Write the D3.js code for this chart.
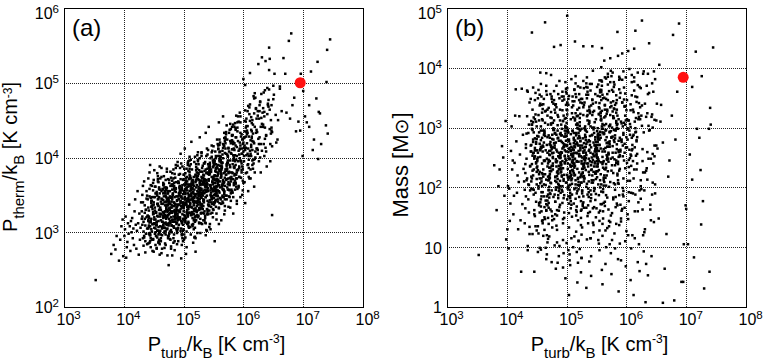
<!DOCTYPE html>
<html><head><meta charset="utf-8">
<script src="https://cdn.jsdelivr.net/npm/d3@7"></script>
<style>
body{margin:0;background:#fff}
svg{display:block}
text{font-family:"Liberation Sans",Arial,Helvetica,sans-serif;fill:#000}
</style>
</head><body>
<svg id="chart" width="763" height="362"></svg>
<script>
// ---- data (log10 values) ----
const xTickValues = [1e3,1e4,1e5,1e6,1e7,1e8];
const xTickExponents = ["3","4","5","6","7","8"];
const yTickValuesA = [1e2,1e3,1e4,1e5,1e6];
const yTickBasesA = ["10","10","10","10","10"];
const yTickExponentsA = ["2","3","4","5","6"];
const yTickValuesB = [1,10,1e2,1e3,1e4,1e5];
const yTickBasesB = ["1","10","10","10","10","10"];
const yTickExponentsB = ["","","2","3","4","5"];
const panelLabels = ["(a)","(b)"];

// log10 Pturb/kB of each clump (shared by both panels)
const logPturb = [
3.53,3.79,3.83,3.88,3.92,3.96,3.98,3.99,3.86,3.94,
4.02,4.05,4.07,4.01,4.09,4.04,4.08,4.03,4.06,4.10,
4.12,4.15,4.18,4.11,4.16,4.19,4.13,4.17,4.14,4.20,
4.22,4.26,4.21,4.29,4.24,4.27,4.23,4.28,4.25,4.30,
4.31,4.34,4.37,4.32,4.39,4.35,4.33,4.38,4.36,4.40,
4.30,4.36,4.33,4.39,4.31,4.37,4.34,4.38,4.32,4.35,
4.41,4.44,4.47,4.42,4.49,4.45,4.43,4.48,4.46,4.50,
4.40,4.46,4.43,4.49,4.41,4.47,4.44,4.48,4.42,4.45,
4.51,4.54,4.57,4.52,4.59,4.55,4.53,4.58,4.56,4.60,
4.50,4.56,4.53,4.59,4.51,4.57,4.54,4.58,4.52,4.55,
4.52,4.55,4.58,4.50,4.57,4.53,4.59,4.54,4.56,4.51,
4.61,4.64,4.67,4.62,4.69,4.65,4.63,4.68,4.66,4.70,
4.60,4.66,4.63,4.69,4.61,4.67,4.64,4.68,4.62,4.65,
4.62,4.65,4.68,4.60,4.67,4.63,4.69,4.64,4.66,4.61,
4.71,4.78,4.74,4.70,4.76,4.79,4.72,4.75,4.73,4.77,
4.75,4.72,4.79,4.73,4.70,4.77,4.74,4.71,4.78,4.76,
4.73,4.77,4.70,4.76,4.72,4.79,4.74,4.78,4.71,4.75,
4.77,4.71,4.74,4.78,4.72,4.76,4.70,4.79,4.73,4.75,
4.82,4.88,4.85,4.80,4.87,4.83,4.89,4.81,4.86,4.84,
4.86,4.81,4.84,4.89,4.82,4.87,4.80,4.85,4.88,4.83,
4.80,4.85,4.88,4.83,4.86,4.81,4.89,4.84,4.87,4.82,
4.84,4.80,4.87,4.82,4.89,4.85,4.81,4.88,4.83,4.86,
4.87,4.83,4.80,4.86,4.82,4.89,4.84,4.81,4.88,4.85,
4.93,4.97,4.90,4.95,4.99,4.92,4.96,4.91,4.98,4.94,
4.96,4.92,4.99,4.94,4.90,4.97,4.93,4.98,4.91,4.95,
4.91,4.98,4.94,4.90,4.96,4.93,4.99,4.92,4.95,4.97,
4.95,4.91,4.97,4.93,4.99,4.90,4.96,4.94,4.98,4.92,
4.98,4.94,4.91,4.97,4.93,4.96,4.90,4.99,4.92,4.95,
5.02,5.07,5.04,5.09,5.01,5.06,5.03,5.08,5.00,5.05,
5.05,5.00,5.08,5.03,5.06,5.01,5.09,5.04,5.07,5.02,
5.08,5.03,5.00,5.06,5.02,5.09,5.05,5.01,5.07,5.04,
5.01,5.06,5.09,5.04,5.07,5.02,5.05,5.08,5.03,5.00,
5.04,5.09,5.02,5.07,5.00,5.05,5.08,5.03,5.06,5.01,
5.07,5.02,5.05,5.00,5.08,5.04,5.01,5.09,5.06,5.03,
5.13,5.18,5.11,5.16,5.19,5.12,5.15,5.10,5.17,5.14,
5.16,5.11,5.19,5.14,5.10,5.17,5.12,5.18,5.15,5.13,
5.19,5.14,5.10,5.17,5.13,5.16,5.11,5.18,5.12,5.15,
5.12,5.17,5.15,5.10,5.18,5.13,5.16,5.19,5.11,5.14,
5.15,5.10,5.13,5.18,5.11,5.16,5.19,5.14,5.17,5.12,
5.18,5.13,5.16,5.11,5.19,5.15,5.12,5.10,5.17,5.14,
5.25,5.20,5.28,5.23,5.26,5.21,5.29,5.24,5.27,5.22,
5.22,5.27,5.24,5.29,5.21,5.26,5.23,5.28,5.20,5.25,
5.24,5.27,5.21,5.25,5.29,5.22,5.26,5.20,5.23,5.28,
5.20,5.23,5.28,5.25,5.22,5.27,5.24,5.29,5.26,5.21,
5.21,5.26,5.23,5.28,5.25,5.20,5.27,5.22,5.29,5.24,
5.23,5.26,5.29,5.21,5.24,5.28,5.20,5.25,5.22,5.27,
5.34,5.31,5.38,5.36,5.30,5.33,5.39,5.35,5.32,5.37,
5.38,5.33,5.30,5.36,5.31,5.39,5.34,5.37,5.32,5.35,
5.31,5.36,5.33,5.39,5.30,5.37,5.32,5.38,5.34,5.35,
5.36,5.32,5.39,5.30,5.35,5.33,5.38,5.31,5.37,5.34,
5.33,5.38,5.35,5.31,5.37,5.30,5.34,5.39,5.32,5.36,
5.42,5.47,5.44,5.49,5.41,5.46,5.43,5.48,5.40,5.45,
5.46,5.41,5.49,5.43,5.47,5.40,5.48,5.44,5.42,5.45,
5.48,5.43,5.40,5.46,5.42,5.49,5.45,5.41,5.47,5.44,
5.41,5.46,5.49,5.44,5.47,5.42,5.45,5.48,5.43,5.40,
5.44,5.49,5.42,5.47,5.40,5.45,5.48,5.43,5.46,5.41,
5.52,5.57,5.54,5.59,5.50,5.56,5.53,5.58,5.51,5.55,
5.54,5.56,5.51,5.59,5.53,5.57,5.50,5.55,5.52,5.58,
5.55,5.54,5.58,5.52,5.57,5.50,5.59,5.53,5.56,5.51,
5.56,5.53,5.58,5.51,5.55,5.59,5.52,5.57,5.50,5.54,
5.55,5.58,5.51,5.54,5.59,5.52,5.56,5.50,5.53,5.57,
5.63,5.68,5.61,5.66,5.69,5.62,5.65,5.60,5.67,5.64,
5.66,5.61,5.69,5.64,5.60,5.67,5.62,5.68,5.65,5.63,
5.69,5.64,5.61,5.67,5.63,5.60,5.66,5.62,5.68,5.65,
5.62,5.67,5.64,5.69,5.61,5.66,5.63,5.68,5.60,5.65,
5.74,5.77,5.70,5.75,5.72,5.79,5.76,5.71,5.78,5.73,
5.76,5.71,5.79,5.74,5.70,5.77,5.72,5.78,5.75,5.73,
5.79,5.74,5.71,5.77,5.73,5.70,5.76,5.72,5.78,5.75,
5.86,5.89,5.82,5.85,5.80,5.87,5.84,5.83,5.88,5.81,
5.83,5.85,5.88,5.82,5.87,5.80,5.84,5.89,5.81,5.86,
5.89,5.84,5.81,5.87,5.83,5.80,5.86,5.82,5.88,5.85,
5.94,5.97,5.90,5.95,5.92,5.99,5.96,5.91,5.98,5.93,
5.96,5.91,5.99,5.94,5.90,5.97,5.92,5.98,5.95,5.93,
6.06,6.09,6.02,6.05,6.00,6.07,6.04,6.03,6.08,6.01,
6.06,6.01,6.09,6.04,6.00,6.07,6.02,6.08,6.05,6.03,
6.14,6.17,6.10,6.15,6.12,6.19,6.16,6.11,6.18,6.13,
6.16,6.11,6.19,6.14,6.10,6.17,6.12,6.18,6.15,6.13,
6.23,6.28,6.21,6.26,6.29,6.22,6.25,6.20,6.27,6.24,
6.33,6.38,6.31,6.36,6.39,6.32,6.35,6.30,6.37,6.34,
6.43,6.48,6.41,6.46,6.44,6.42,6.45,6.40,6.47,6.43,
6.52,6.61,6.58,6.67,6.55,6.70,6.64,6.50,6.61,6.48,
6.80,6.76,6.72,6.96,6.88,6.82,6.92,6.85,6.99,6.78,
7.45,7.40,7.24,7.13,7.39,7.00,7.38,7.28,7.41,7.22,
7.16,7.10,7.26,7.18,7.03,7.25,7.10,7.30,6.95,7.06,
4.33,4.47,4.38,4.42,4.31,4.49,4.36,4.44,4.40,4.35,
4.45,4.32,4.48,4.37,4.41,4.34,4.46,4.39,4.43,4.50,
4.52,4.41,4.57,4.46,4.59,4.43,4.55,4.49,4.53,4.44,
4.48,4.56,4.42,4.60,4.50,4.45,4.58,4.47,4.54,4.51,
4.62,4.71,4.57,4.66,4.74,4.60,4.69,4.63,4.72,4.58,
4.67,4.59,4.73,4.64,4.56,4.70,4.61,4.75,4.65,4.68,
4.60,4.69,4.74,4.57,4.66,4.63,4.72,4.58,4.68,4.71,
4.77,4.86,4.72,4.81,4.89,4.75,4.84,4.78,4.87,4.73,
4.82,4.74,4.88,4.79,4.71,4.85,4.76,4.90,4.80,4.83,
4.75,4.84,4.89,4.72,4.81,4.78,4.87,4.73,4.83,4.86,
4.71,4.80,4.76,4.88,4.74,4.85,4.79,4.82,4.77,4.90,
4.86,4.73,4.81,4.77,4.89,4.70,4.84,4.75,4.88,4.79,
4.78,4.83,4.70,4.87,4.76,4.81,4.90,4.74,4.85,4.72,
4.97,5.06,4.92,5.01,5.09,4.95,5.04,4.98,5.07,4.93,
5.02,4.94,5.08,4.99,4.91,5.05,4.96,5.10,5.00,5.03,
4.95,5.04,5.09,4.92,5.01,4.98,5.07,4.93,5.03,5.06,
4.91,5.00,4.96,5.08,4.94,5.05,4.99,5.02,4.97,5.10,
5.06,4.93,5.01,4.97,5.09,4.90,5.04,4.95,5.08,4.99,
4.98,5.03,4.90,5.07,4.96,5.01,5.10,4.94,5.05,4.92,
5.17,5.26,5.12,5.21,5.29,5.15,5.24,5.18,5.27,5.13,
5.22,5.14,5.28,5.19,5.11,5.25,5.16,5.30,5.20,5.23,
5.15,5.24,5.29,5.12,5.21,5.18,5.27,5.13,5.23,5.26,
5.11,5.20,5.16,5.28,5.14,5.25,5.19,5.22,5.17,5.30,
5.26,5.13,5.21,5.17,5.29,5.10,5.24,5.15,5.28,5.19,
5.18,5.23,5.10,5.27,5.16,5.21,5.30,5.14,5.25,5.12,
5.37,5.46,5.32,5.41,5.49,5.35,5.44,5.38,5.47,5.33,
5.42,5.34,5.48,5.39,5.31,5.45,5.36,5.50,5.40,5.43,
5.35,5.44,5.49,5.32,5.41,5.38,5.47,5.33,5.43,5.46,
5.31,5.40,5.36,5.48,5.34,5.45,5.39,5.42,5.37,5.50,
5.46,5.33,5.41,5.37,5.49,5.30,5.44,5.35,5.48,5.39,
5.57,5.66,5.52,5.61,5.69,5.55,5.64,5.58,5.67,5.53,
5.62,5.54,5.68,5.59,5.51,5.65,5.56,5.70,5.60,5.63,
5.55,5.64,5.69,5.52,5.61,5.58,5.67,5.53,5.63,5.66,
5.51,5.60,5.56,5.68,5.54,5.65,5.59,5.62,5.57,5.70,
5.77,5.86,5.72,5.81,5.89,5.75,5.84,5.78,5.87,5.73,
5.82,5.74,5.88,5.79,5.71,5.85,5.76,5.90,5.80,5.83,
5.75,5.84,5.89,5.72,5.81,5.78,5.87,5.73,5.83,5.86,
5.97,6.06,5.92,6.01,6.09,5.95,6.04,5.98,6.07,5.93,
6.02,5.94,6.08,5.99,5.91,6.05,5.96,6.10,6.00,6.03,
6.17,6.31,6.12,6.24,6.38,6.15,6.28,6.20,6.35,6.13,
6.26,6.44,6.22,6.51,6.33,6.57,6.29,6.47,6.36,6.54,
6.04,6.21,6.09,6.27,6.13,6.18,6.02,6.24,6.07,6.15,
4.43,4.61,4.52,4.68,4.47,4.57,4.64,4.41,4.55,4.66,
4.58,4.46,4.69,4.50,4.63,4.42,4.54,4.67,4.48,4.60,
4.65,4.53,4.44,4.70,4.59,4.49,4.62,4.56,4.45,4.68,
4.51,4.66,4.60,4.42,4.55,4.69,4.47,4.63,4.58,4.44,
4.64,4.49,4.57,4.45,4.70,4.53,4.61,4.41,4.67,4.56,
4.47,4.59,4.43,4.66,4.52,4.62,4.55,4.68,4.50,4.64,
5.53,5.71,5.62,5.88,5.57,5.79,5.66,5.95,5.60,5.84,
5.68,5.55,5.91,5.74,5.63,5.99,5.81,5.52,5.77,5.86,
5.82,5.97,5.59,5.73,6.04,5.65,5.89,5.51,5.78,5.93,
5.61,5.86,5.76,5.54,6.01,5.69,5.95,5.83,5.58,5.72,
5.75,5.64,6.07,5.92,5.56,5.80,5.68,6.03,5.87,5.99,
5.90,5.52,5.79,5.66,5.97,5.85,5.60,6.09,5.71,5.94,
5.63,5.81,5.96,5.58,5.74,6.05,5.85,5.50,5.69,5.91,
5.57,5.94,5.70,5.83,6.08,5.62,5.77,5.98,5.54,5.88,
5.72,5.60,5.87,6.00,5.66,5.93,5.52,5.79,6.06,5.83,
5.95,5.78,5.65,5.89,5.55,6.02,5.73,5.84,5.61,5.98,
6.12,6.35,6.22,6.46,6.17,6.29,6.41,6.14,6.26,6.38,
6.27,6.15,6.43,6.20,6.33,6.11,6.48,6.24,6.37,6.19,
6.16,6.42,6.31,6.13,6.25,6.50,6.21,6.36,6.18,6.45,
6.40,6.23,6.11,6.34,6.47,6.19,6.30,6.14,6.44,6.28
];

// log10 Ptherm/kB (panel a)
const logPtherm = [
2.36,2.71,2.83,2.95,2.62,3.08,3.17,2.68,2.77,2.90,
3.04,2.80,3.12,2.95,3.37,2.66,2.98,3.21,2.87,3.08,
3.15,2.92,3.28,2.75,3.05,3.44,3.00,2.83,3.19,3.10,
3.02,3.25,2.78,3.40,3.12,2.90,3.55,3.06,2.70,3.18,
3.10,2.95,3.30,3.62,2.84,3.18,3.01,3.45,2.73,3.22,
3.28,2.88,3.14,3.05,3.50,2.98,3.68,3.20,2.92,3.36,
3.15,2.96,3.42,3.07,3.27,2.80,3.58,3.11,3.34,2.74,
3.22,3.04,3.80,2.90,3.16,3.47,2.99,3.31,3.09,3.63,
3.20,2.95,3.44,3.12,3.30,2.79,3.61,3.07,3.38,2.70,
3.25,3.02,3.52,2.88,3.17,3.71,3.09,3.35,2.98,3.14,
3.33,3.10,2.86,3.47,3.21,3.00,3.58,3.26,2.93,3.83,
3.24,3.05,3.48,2.92,3.36,3.14,2.72,3.60,3.19,3.02,
3.30,3.10,3.55,2.85,3.21,3.75,3.07,3.40,2.97,3.27,
3.16,3.38,2.99,3.52,3.12,3.86,3.28,2.78,3.43,3.08,
3.47,3.12,3.29,2.83,3.66,3.20,3.04,3.38,2.69,3.55,
3.09,3.41,3.73,3.27,2.97,3.15,3.52,3.34,2.90,3.24,
3.36,3.01,3.49,3.18,3.85,2.78,3.23,3.62,3.11,3.43,
3.30,3.56,2.95,3.14,3.37,3.70,3.21,3.46,3.05,2.56,
3.52,3.19,2.88,3.41,3.67,3.08,3.30,3.79,3.24,2.97,
3.14,3.44,3.61,3.02,3.28,3.90,3.36,2.76,3.48,3.21,
3.33,3.55,3.11,2.92,3.73,3.26,3.43,3.06,3.59,3.17,
3.40,3.00,3.26,3.64,3.13,3.47,2.69,3.32,3.84,3.22,
3.58,3.35,3.09,3.17,3.50,2.84,3.39,3.62,3.04,3.28,
3.29,3.58,3.16,3.71,3.02,3.44,3.35,2.88,3.63,3.20,
3.47,3.10,3.38,3.86,3.25,2.96,3.53,3.14,3.68,3.41,
3.06,3.34,3.55,3.22,2.65,3.49,3.18,3.77,3.31,3.60,
3.42,3.66,3.12,3.37,3.51,3.04,3.92,3.27,2.92,3.45,
3.24,3.57,3.36,2.83,3.61,3.15,3.48,3.70,3.28,4.05,
3.47,3.21,3.69,3.35,2.97,3.56,3.13,3.82,3.40,3.27,
3.60,3.32,3.08,3.51,3.74,3.17,3.43,2.71,3.64,3.38,
3.26,3.53,3.77,3.11,3.45,3.62,3.01,3.36,3.90,3.19,
3.55,3.30,3.48,3.66,3.23,4.12,3.41,3.14,3.58,3.04,
3.39,3.71,3.18,3.52,3.34,2.80,3.46,3.63,3.25,3.85,
3.12,3.44,3.59,3.28,3.95,3.37,2.91,3.50,3.68,3.22,
3.52,3.28,3.75,3.41,3.06,3.63,3.19,3.89,3.47,3.33,
3.66,3.38,3.14,3.58,3.81,3.24,3.49,2.93,3.70,3.44,
3.31,3.59,3.85,3.16,3.51,3.69,3.07,3.42,3.97,3.25,
3.61,3.36,3.53,3.72,3.29,4.21,3.46,3.20,3.64,3.10,
3.45,3.77,3.23,3.57,3.39,2.86,3.50,3.68,3.31,3.91,
3.17,3.48,3.63,3.34,4.01,3.43,2.97,3.55,3.74,3.27,
3.58,3.32,3.81,3.46,3.12,3.69,3.25,3.95,3.53,3.39,
3.72,3.44,3.20,3.64,3.87,3.30,3.55,2.99,3.76,3.50,
3.37,3.65,3.91,3.22,3.57,3.75,3.13,3.48,4.03,3.31,
3.67,3.42,3.59,3.78,3.35,4.27,3.52,3.26,3.70,3.16,
3.51,3.83,3.29,3.63,3.45,2.92,3.56,3.74,3.37,3.97,
3.23,3.54,3.69,3.40,4.07,3.49,2.74,3.61,3.80,3.33,
3.40,3.86,3.63,3.19,3.74,3.55,4.12,3.28,3.68,3.47,
3.79,3.35,3.58,3.94,3.11,3.66,3.43,3.84,3.26,3.71,
3.53,3.22,3.77,3.61,3.38,4.33,3.49,3.03,3.70,3.57,
3.65,3.89,3.31,3.46,3.82,3.16,3.60,3.72,2.96,3.52,
3.44,3.69,3.92,3.37,3.56,4.06,3.25,3.80,3.64,3.13,
3.70,3.44,3.93,3.57,3.24,3.81,3.36,4.09,3.64,3.50,
3.84,3.55,3.31,3.77,4.01,3.42,3.67,3.11,3.88,3.62,
3.48,3.78,4.04,3.34,3.69,3.87,3.25,3.59,4.16,3.43,
3.79,3.53,3.71,3.90,3.46,4.41,3.63,3.38,3.82,3.27,
3.63,3.96,3.40,3.74,3.57,3.04,3.68,3.86,3.49,4.10,
3.76,3.49,3.99,3.63,3.30,3.88,3.42,4.16,3.71,3.57,
3.91,3.61,3.37,3.84,4.08,3.48,3.74,3.17,3.95,3.68,
3.55,3.85,4.11,3.40,3.76,3.94,3.32,3.66,4.24,3.50,
3.86,3.59,3.78,3.97,3.52,4.47,3.70,3.44,3.89,3.34,
3.69,4.02,3.46,3.81,3.63,2.88,3.75,3.93,3.55,4.18,
3.84,3.55,4.08,3.70,3.35,3.97,3.49,4.24,3.79,3.63,
3.99,3.68,3.44,3.92,4.17,3.56,3.82,3.24,4.04,3.76,
3.62,3.93,4.20,3.47,3.84,4.02,3.39,3.73,4.33,3.58,
3.94,3.66,3.86,4.06,3.60,4.55,3.78,3.51,3.97,3.41,
3.93,3.63,4.19,3.79,3.44,4.06,3.57,4.34,3.87,3.71,
4.08,3.77,3.52,4.01,4.27,3.65,3.91,3.33,4.13,3.85,
3.71,4.02,4.31,3.56,3.93,4.12,3.48,3.82,4.45,3.67,
4.03,3.72,4.30,3.88,3.53,4.16,3.66,4.44,3.97,3.80,
4.18,3.86,3.61,4.11,4.37,3.74,4.00,3.42,4.23,3.95,
3.80,4.12,4.41,3.65,4.03,4.22,3.57,3.91,4.56,3.76,
4.12,3.80,4.40,3.96,3.60,4.25,3.73,4.55,4.05,3.88,
4.28,3.95,3.69,4.20,4.47,3.83,4.09,3.50,4.33,4.04,
4.19,3.86,4.49,4.03,3.66,4.33,3.79,4.97,4.12,3.95,
4.36,4.02,3.74,4.28,5.05,3.90,4.16,3.55,4.42,4.10,
4.26,3.92,4.58,4.10,3.72,4.41,3.85,5.13,4.19,4.02,
4.44,4.09,3.80,4.35,4.67,3.97,4.23,3.61,4.50,4.17,
4.34,4.00,4.66,4.18,3.80,4.52,5.25,4.80,4.27,4.10,
4.41,4.08,5.34,4.25,3.88,4.60,4.02,4.85,5.29,4.18,
5.47,4.15,4.72,4.32,5.32,4.68,3.95,4.93,4.40,5.17,
5.12,4.95,4.50,5.33,4.20,5.12,4.62,4.78,4.92,3.23,
5.66,5.56,4.60,5.12,4.35,4.70,4.48,4.80,4.02,4.52,
5.58,5.44,5.28,5.15,5.01,4.89,4.43,4.59,4.32,4.79,
4.10,4.41,4.61,4.24,4.55,3.98,4.70,4.18,4.36,4.47,
2.82,3.35,3.55,2.98,3.21,3.66,3.09,2.88,3.44,3.26,
3.14,3.40,2.75,3.30,3.72,2.93,3.18,3.49,2.86,3.37,
3.29,3.05,3.68,3.42,2.90,3.13,3.51,3.24,2.83,3.90,
3.36,3.02,3.19,3.57,3.11,3.46,2.97,3.62,3.27,3.06,
3.41,3.18,3.02,3.63,3.36,2.89,3.52,3.24,3.81,3.15,
3.06,3.47,3.29,2.96,3.22,3.70,3.33,3.12,3.58,2.79,
3.25,3.55,2.92,3.38,3.09,3.74,3.20,3.45,3.01,3.31,
3.48,3.27,3.10,3.69,3.42,2.95,3.58,3.33,3.86,3.21,
3.14,3.55,3.37,3.03,3.30,3.78,3.41,3.19,3.64,2.86,
3.32,3.62,2.99,3.45,3.16,3.81,3.27,3.52,3.08,3.38,
3.60,3.09,3.40,3.24,3.71,3.35,2.81,3.50,3.26,3.94,
3.19,3.43,3.57,2.91,3.34,3.13,3.66,3.46,3.05,3.28,
3.38,3.72,3.22,3.54,2.98,3.47,3.89,3.11,3.30,3.59,
3.56,3.34,3.17,3.77,3.50,3.02,3.65,3.40,3.93,3.28,
3.21,3.62,3.44,3.10,3.37,3.85,3.48,3.26,3.71,2.93,
3.39,3.69,3.06,3.52,3.23,3.88,3.34,3.59,3.15,3.45,
3.67,3.16,3.47,3.31,3.78,3.42,2.88,3.57,3.33,4.01,
3.26,3.50,3.64,2.98,3.41,3.20,3.73,3.53,3.12,3.35,
3.45,3.79,3.29,3.61,3.05,3.54,3.96,3.18,3.37,3.66,
3.62,3.40,3.23,3.83,3.56,3.08,3.71,3.46,3.99,3.34,
3.27,3.68,3.50,3.16,3.43,3.91,3.54,3.32,3.77,2.99,
3.45,3.75,3.12,3.58,3.29,3.94,3.40,3.65,3.21,3.51,
3.73,3.22,3.53,3.37,3.84,3.48,2.94,3.63,3.39,4.07,
3.32,3.56,3.70,3.04,3.47,3.26,3.79,3.59,3.18,3.41,
3.51,3.85,3.35,3.67,3.11,3.60,4.02,3.24,3.43,3.72,
3.70,3.48,3.31,3.91,3.64,3.16,3.79,3.54,4.07,3.42,
3.35,3.76,3.58,3.24,3.51,3.99,3.62,3.40,3.85,3.07,
3.53,3.83,3.20,3.66,3.37,4.02,3.48,3.73,3.29,3.59,
3.81,3.30,3.61,3.45,3.92,3.56,3.02,3.71,3.47,4.15,
3.40,3.64,3.78,3.12,3.55,3.34,3.87,3.67,3.26,3.49,
3.80,3.57,3.40,4.01,3.73,3.25,3.88,3.63,4.17,3.51,
3.44,3.86,3.67,3.33,3.60,4.09,3.71,3.49,3.95,3.16,
3.62,3.93,3.29,3.75,3.46,4.12,3.57,3.82,3.38,3.68,
3.90,3.39,3.70,3.54,4.02,3.65,3.11,3.80,3.56,4.25,
3.90,3.66,3.49,4.11,3.83,3.34,3.98,3.73,4.27,3.60,
3.53,3.96,3.77,3.42,3.70,4.19,3.81,3.58,4.05,3.25,
3.72,4.03,3.38,3.85,3.55,4.22,3.66,3.92,3.47,3.78,
4.05,3.80,3.62,4.26,3.97,3.47,4.13,3.88,4.42,3.74,
3.67,4.11,3.91,3.56,3.84,4.34,3.95,3.72,4.20,3.39,
4.21,4.45,3.84,4.62,4.30,3.96,4.74,4.08,4.55,4.37,
4.52,4.38,4.12,4.84,4.66,4.24,4.41,4.70,4.90,4.57,
4.48,4.33,4.02,4.70,4.14,4.59,4.27,4.05,4.62,3.90,
3.48,3.02,3.61,3.27,2.90,3.75,3.14,3.33,2.78,3.52,
2.87,3.39,3.06,3.70,3.45,3.21,2.95,3.64,3.11,3.88,
3.57,3.17,3.08,3.41,2.99,3.56,3.30,3.79,2.92,3.20,
3.12,3.66,2.84,3.29,3.54,3.23,3.01,3.38,3.67,2.96,
3.44,2.91,3.36,3.15,3.58,3.05,3.72,2.85,3.25,3.49,
3.34,3.60,2.97,3.22,3.47,2.88,3.13,3.53,3.40,3.07,
3.58,4.05,3.96,3.72,3.41,4.38,3.63,4.16,4.07,3.87,
4.15,3.52,4.22,3.64,3.88,3.85,4.29,3.92,3.47,4.46,
3.79,4.31,3.55,4.24,4.40,3.47,4.02,3.66,3.96,3.74,
3.98,3.69,4.33,3.43,4.13,3.81,4.55,4.21,3.70,4.43,
4.12,3.61,4.05,4.48,3.86,3.57,4.26,4.63,3.90,4.18,
4.35,3.76,3.68,4.18,3.92,4.41,3.53,4.28,3.77,4.60,
3.74,4.30,3.95,3.90,3.57,4.52,4.10,3.55,4.22,3.83,
3.66,3.99,3.84,3.96,4.69,4.01,4.37,4.12,3.49,4.27,
3.89,3.82,4.39,4.08,4.13,3.86,3.61,4.19,4.31,3.71,
4.47,3.80,3.93,4.14,3.71,4.35,4.04,3.63,3.89,4.24,
4.05,4.61,4.37,4.50,4.82,4.18,4.70,4.46,3.95,4.29,
4.62,4.22,4.91,4.00,4.44,4.71,4.34,4.56,4.13,4.86,
4.32,4.77,4.09,4.54,4.25,4.96,4.65,4.40,4.79,4.18,
4.58,4.12,4.49,4.87,4.36,3.98,4.53,4.28,4.64,4.75
];

// log10 Mass [Msun] (panel b)
const logMass = [
0.87,2.37,1.62,2.30,2.69,1.86,3.11,1.13,2.02,2.50,
2.02,1.44,2.61,1.30,2.30,1.98,3.02,0.98,1.73,2.45,
1.86,3.64,2.20,1.55,2.77,1.30,2.41,1.91,3.20,2.09,
2.55,1.72,3.19,2.10,0.59,2.88,1.45,2.31,3.65,1.96,
2.24,3.19,1.58,2.72,1.95,0.95,2.48,3.42,1.80,2.60,
1.40,2.05,2.90,2.35,1.65,3.05,2.15,1.22,2.66,3.60,
2.18,2.80,1.52,4.59,2.40,1.88,3.30,2.62,0.59,2.05,
2.70,1.62,2.28,3.10,1.98,2.52,3.67,1.35,2.15,2.92,
2.35,1.70,3.02,2.58,1.44,2.15,2.85,1.92,3.40,2.22,
1.28,2.64,2.02,3.25,2.44,1.80,2.92,2.10,0.92,2.73,
2.50,3.55,1.60,2.26,2.95,1.98,2.40,3.12,1.75,2.62,
2.30,4.76,1.85,2.75,2.12,3.28,1.50,2.58,3.91,1.95,
2.70,1.62,2.44,3.05,2.18,1.20,2.86,2.35,3.48,1.78,
2.05,2.62,3.20,1.45,2.48,2.90,1.88,2.22,0.80,2.68,
2.61,1.84,2.27,3.33,1.52,2.96,2.44,0.75,2.08,3.08,
1.95,2.72,3.46,2.33,1.66,2.51,3.88,2.14,2.80,1.33,
3.17,2.40,1.74,2.88,2.22,1.47,3.05,2.58,2.01,3.52,
2.30,1.18,2.68,3.40,1.90,2.57,2.12,4.35,2.76,1.60,
2.47,1.98,3.21,2.70,0.85,2.35,2.89,1.76,3.56,2.19,
2.83,2.11,1.62,2.54,3.39,2.04,2.66,3.04,1.02,2.42,
1.88,2.95,2.30,3.70,2.52,1.55,3.12,2.25,2.78,0.64,
2.60,3.30,1.94,2.43,1.71,2.82,2.18,3.49,2.63,2.06,
2.36,1.36,2.74,3.18,2.00,2.49,1.08,2.91,3.78,2.27,
2.44,3.15,1.91,2.67,2.08,3.52,1.58,2.30,2.85,0.66,
2.72,2.18,3.38,1.12,2.55,2.95,2.02,3.76,2.39,1.82,
3.05,2.48,1.47,2.78,2.21,3.29,2.60,1.96,0.90,2.52,
2.14,2.87,2.42,1.74,3.60,2.33,2.69,3.11,0.48,2.58,
2.90,1.40,2.26,2.62,3.45,1.87,4.38,2.45,2.98,2.11,
2.31,2.89,1.73,2.56,3.22,2.04,0.95,2.68,3.57,2.16,
2.47,3.08,2.12,1.85,2.73,3.41,2.29,0.20,2.61,1.98,
1.15,2.52,3.30,2.38,2.92,1.88,2.66,3.66,2.19,2.80,
2.99,2.24,1.51,2.77,3.14,2.40,1.96,2.55,3.48,2.08,
2.64,3.24,2.17,1.77,2.86,2.48,3.81,2.02,0.70,2.71,
2.35,2.96,0.88,2.69,2.21,3.53,4.87,2.42,1.82,2.59,
2.40,1.94,3.17,2.58,0.74,2.83,2.12,3.44,1.68,2.67,
2.91,2.27,1.45,4.44,2.51,1.90,2.74,3.30,2.05,1.18,
2.16,2.78,3.52,1.59,2.33,3.05,2.46,0.41,2.62,3.86,
2.57,3.19,1.81,2.36,2.99,2.20,1.26,2.70,3.37,2.48,
1.99,2.66,3.63,2.31,1.00,2.87,2.14,3.12,2.43,1.73,
2.73,3.44,1.62,2.52,2.04,3.74,2.39,2.94,0.92,2.21,
2.44,1.97,3.21,2.62,1.33,2.86,2.15,3.48,1.72,2.70,
2.95,2.31,1.49,3.66,2.55,1.94,2.78,3.34,2.09,0.82,
2.20,2.82,3.56,1.63,2.37,3.09,2.50,1.10,2.66,4.36,
2.61,3.23,1.85,2.40,3.03,2.24,0.58,2.74,3.41,2.52,
2.03,2.70,3.67,2.35,1.21,2.91,2.18,3.16,2.47,1.77,
2.77,3.48,1.66,2.56,2.08,3.78,2.43,2.98,0.97,2.25,
2.06,2.88,3.35,1.70,2.52,0.32,2.71,3.12,2.29,1.92,
2.63,3.55,2.15,1.40,2.97,2.44,3.84,1.84,2.58,3.21,
3.02,2.35,1.66,2.77,3.42,2.10,2.49,0.76,2.93,3.67,
1.98,2.68,3.27,2.41,1.52,3.74,2.21,2.84,3.06,1.13,
2.54,3.30,1.88,2.97,2.26,2.62,3.49,1.59,2.79,2.40,
2.50,1.98,3.26,2.68,0.85,2.91,2.20,3.56,1.77,2.75,
3.00,2.37,1.50,4.36,2.60,1.95,2.84,3.40,2.12,1.25,
2.25,2.88,3.62,1.67,2.42,3.14,2.55,0.52,2.71,3.95,
2.67,3.28,1.89,2.46,3.09,2.30,1.37,2.80,3.47,2.58,
2.08,2.76,3.73,2.40,1.15,2.97,2.23,3.21,2.52,1.82,
2.84,2.42,1.58,4.33,2.64,2.00,2.90,3.46,2.17,0.95,
2.29,2.93,3.68,1.72,2.47,3.19,2.60,1.28,2.76,4.01,
2.71,3.34,1.93,2.50,3.13,2.35,0.62,2.85,3.52,2.62,
2.12,2.80,3.79,2.44,1.44,3.02,2.27,3.26,2.56,1.87,
3.41,2.05,2.66,1.06,2.98,2.39,3.63,1.65,2.83,2.22,
2.90,2.46,1.60,3.82,2.68,2.03,2.95,0.38,2.20,3.30,
2.33,2.98,3.72,1.76,2.51,3.23,2.64,1.32,2.79,4.12,
2.75,3.38,1.97,2.54,3.17,2.39,1.00,2.89,3.56,2.66,
2.16,2.84,3.84,2.48,1.48,3.06,2.31,3.30,2.60,0.72,
2.94,2.50,1.63,3.86,2.72,2.07,3.00,1.35,2.24,3.34,
2.37,3.02,3.76,0.90,2.55,3.27,2.68,1.80,2.83,4.16,
2.79,3.42,2.01,2.58,3.21,2.43,1.12,2.93,3.60,0.55,
2.98,2.54,1.67,4.60,2.76,0.26,3.04,1.39,2.28,3.38,
2.41,3.06,3.80,1.84,2.59,3.31,2.72,1.06,2.87,4.20,
2.83,3.46,2.05,2.62,3.25,2.47,0.80,2.97,3.64,1.70,
3.02,2.58,1.71,3.94,2.80,0.68,3.08,1.43,2.32,3.42,
2.45,3.10,3.84,1.88,2.63,3.35,2.76,1.10,2.91,4.24,
3.06,2.62,1.55,3.98,2.84,0.45,3.12,1.47,2.36,3.46,
2.49,3.14,3.88,1.92,2.67,3.39,2.80,0.98,2.95,4.28,
3.10,2.30,1.20,4.62,2.88,0.75,3.16,1.90,2.40,3.62,
2.53,3.30,3.92,1.60,2.71,3.43,0.20,2.84,2.99,4.32,
3.14,2.25,1.05,4.79,2.92,0.60,3.20,1.75,2.44,3.66,
3.18,4.41,1.30,3.90,2.96,0.08,3.24,1.95,2.48,3.70,
3.22,2.05,1.45,3.94,3.00,0.85,2.40,1.63,2.52,3.74,
2.65,0.07,3.38,1.22,4.05,2.18,0.64,3.12,2.75,1.90,
0.11,3.20,2.45,1.05,4.74,2.80,0.42,3.60,1.70,4.55,
4.34,3.33,2.29,0.83,0.59,1.64,2.98,1.77,3.05,2.83,
4.27,3.68,3.86,2.98,1.05,1.38,2.13,0.31,0.42,2.55,
2.12,2.66,1.34,3.05,2.39,1.76,2.91,2.20,3.48,1.02,
2.58,1.85,3.22,2.04,2.71,3.62,1.55,2.36,2.96,2.14,
2.29,3.11,1.68,2.50,2.83,1.97,3.37,2.42,1.23,2.76,
1.91,2.62,2.98,1.40,2.33,3.17,2.15,2.82,1.74,2.47,
2.45,1.83,2.79,2.13,3.26,2.60,1.49,2.92,2.27,3.52,
2.71,2.24,1.63,3.08,2.51,1.96,3.39,2.36,0.99,2.84,
3.12,2.40,2.07,2.68,1.72,2.95,2.54,1.85,3.30,2.19,
2.49,1.87,2.83,2.17,3.30,2.64,1.53,2.96,2.31,3.56,
2.75,2.28,1.67,3.12,2.55,2.00,3.43,2.40,1.03,2.88,
3.16,2.44,2.11,2.72,1.76,2.99,2.58,1.89,3.34,2.23,
2.33,2.90,1.45,2.52,3.07,2.14,3.61,1.96,2.67,2.42,
1.82,2.61,3.25,2.36,2.02,2.87,1.29,3.48,2.50,2.74,
2.97,2.09,2.46,1.61,2.81,3.38,2.25,2.70,0.74,2.16,
2.53,1.91,2.87,2.21,3.34,2.68,1.57,3.00,2.35,3.60,
2.79,2.32,1.71,3.16,2.59,2.04,3.47,2.44,1.07,2.92,
3.20,2.48,2.15,2.76,1.80,3.03,2.62,1.93,3.38,2.27,
2.37,2.94,1.49,2.56,3.11,2.18,3.65,2.00,2.71,2.46,
1.86,2.65,3.29,2.40,2.06,2.91,1.33,3.52,2.54,2.78,
3.01,2.13,2.50,1.65,2.85,3.42,2.29,2.74,0.78,2.20,
2.57,1.95,2.91,2.25,3.38,2.72,1.61,3.04,2.39,3.64,
2.83,2.36,1.75,3.20,2.63,2.08,3.51,2.48,1.11,2.96,
3.24,2.52,2.19,2.80,1.84,3.07,2.66,1.97,3.42,2.31,
2.41,2.98,1.53,2.60,3.15,2.22,3.69,2.04,2.75,2.50,
1.90,2.69,3.33,2.44,2.10,2.95,1.37,3.56,2.58,2.82,
3.05,2.17,2.54,1.69,2.89,3.46,2.33,2.78,0.82,2.24,
2.61,1.99,2.95,2.29,3.42,2.76,1.65,3.08,2.43,3.68,
2.87,2.40,1.79,3.24,2.67,2.12,3.55,2.52,1.15,3.00,
3.28,2.56,2.23,2.84,1.88,3.11,2.70,2.01,3.46,2.35,
2.45,3.02,1.57,2.64,3.19,2.26,3.73,2.08,2.79,2.54,
1.94,2.73,3.37,2.48,2.14,2.99,1.41,3.60,2.62,2.86,
2.65,2.03,2.99,2.33,3.46,2.80,1.69,3.12,2.47,3.72,
2.91,2.44,1.83,3.28,2.71,2.16,3.59,2.56,1.19,3.04,
3.32,2.60,2.27,2.88,1.92,3.15,2.74,2.05,3.50,2.39,
2.49,3.06,1.61,2.68,3.23,2.30,3.77,2.12,2.83,2.58,
2.69,2.07,3.03,2.37,3.50,2.84,1.73,3.16,2.51,3.76,
2.95,2.48,1.87,3.32,2.75,2.20,3.63,2.60,1.23,3.08,
3.36,2.64,2.31,2.92,1.96,3.19,2.78,2.09,3.54,2.43,
2.73,2.11,3.07,2.41,3.54,2.88,1.77,3.20,2.55,3.80,
2.99,2.52,1.91,3.36,2.79,2.24,3.67,2.64,1.27,3.12,
2.77,3.40,2.15,1.81,3.58,2.92,1.20,3.24,2.59,3.84,
3.03,2.56,1.95,3.40,2.28,3.10,0.93,2.70,3.56,1.48,
2.46,3.18,2.83,1.63,2.30,3.51,2.97,2.12,3.29,1.88,
1.22,2.95,3.49,1.78,2.62,0.96,3.27,2.10,1.58,3.70,
3.38,2.48,1.14,2.81,1.67,3.05,2.22,0.88,3.58,1.92,
2.04,3.63,2.57,1.39,3.14,2.73,1.85,3.92,2.30,1.08,
2.86,1.61,3.31,2.39,0.99,2.18,3.46,1.29,2.66,3.09,
1.47,2.76,3.73,1.96,2.43,3.21,1.19,2.60,3.55,2.07,
3.14,2.02,2.53,3.61,1.35,2.88,2.26,1.70,3.02,2.45,
1.12,3.61,2.44,3.85,1.72,2.96,3.48,2.15,1.39,3.30,
3.27,2.71,1.48,3.95,2.20,3.12,0.98,3.53,2.85,2.39,
2.58,1.66,3.70,3.05,2.34,1.28,3.82,2.94,1.83,3.42,
3.49,2.12,1.57,3.22,2.67,3.90,1.94,2.45,3.63,1.05,
2.28,3.37,3.01,1.61,2.88,3.72,2.51,1.20,3.14,2.66,
3.58,2.40,3.16,1.87,3.36,2.23,2.92,3.76,1.44,2.70,
2.09,2.82,3.47,3.60,1.53,2.63,3.20,2.27,3.85,0.78,
3.24,1.99,2.74,3.41,2.53,1.74,3.92,3.05,2.61,1.37,
2.77,3.55,2.06,3.29,2.96,1.64,2.35,3.68,2.88,3.11,
1.85,3.44,3.19,2.52,3.79,2.11,1.42,2.99,2.42,3.57,
3.26,2.13,3.68,1.42,2.79,3.94,2.48,1.15,3.37,2.95,
2.64,3.52,1.88,3.14,0.72,2.44,3.81,2.02,3.03,1.60,
2.93,3.18,2.25,3.77,1.97,2.70,3.41,0.53,2.56,3.60,
1.71,3.34,2.86,2.32,3.13,3.71,1.25,2.67,2.08,3.90
];

// highlighted clump (red marker): [log10 Pturb, log10 y]
const highlightA = [6.95, 5.00];
const highlightB = [6.95, 3.84];

// ---- drawing ----
const svg = d3.select("#chart");
const TOP = 8, SIZE = 299, DOT = 2.5;

function addSupText(sel, base, exp, baseSize, supSize, supDy) {
  sel.append("tspan").attr("font-size", baseSize).text(base);
  if (exp) sel.append("tspan").attr("font-size", supSize).attr("dy", supDy).text(exp);
}

function titleTspans(t, sub) {
  t.append("tspan").text("P");
  t.append("tspan").attr("font-size", "15px").attr("dy", 6.5).text(sub);
  t.append("tspan").attr("dy", -6.5).text("/k");
  t.append("tspan").attr("font-size", "15px").attr("dy", 6.5).text("B");
  t.append("tspan").attr("dy", -6.5).text(" [K cm");
}

function drawPanel(opt) {
  const left = opt.left;
  const g = svg.append("g");
  const x = d3.scaleLog().domain([1e3, 1e8]).range([left, left + SIZE]);
  const y = d3.scaleLog().domain(opt.yDomain).range([TOP + SIZE, TOP]);

  svg.append("clipPath").attr("id", "clip" + opt.key)
    .append("rect").attr("x", left).attr("y", TOP).attr("width", SIZE + 1).attr("height", SIZE + 1);

  const gx = g.append("g").attr("transform", `translate(0,${TOP})`)
    .call(d3.axisBottom(x).tickValues(xTickValues.slice(1, -1)).tickSize(SIZE).tickFormat(""));
  gx.select(".domain").remove();
  gx.selectAll("line").attr("stroke", "#222").attr("stroke-dasharray", "1,1").attr("shape-rendering", "crispEdges");

  const gy = g.append("g").attr("transform", `translate(${left},0)`)
    .call(d3.axisRight(y).tickValues(opt.yTicks.slice(1, -1)).tickSize(SIZE).tickFormat(""));
  gy.select(".domain").remove();
  gy.selectAll("line").attr("stroke", "#222").attr("stroke-dasharray", "1,1").attr("shape-rendering", "crispEdges");

  const idx = d3.range(Math.min(logPturb.length, opt.ys.length));
  g.append("g").attr("clip-path", `url(#clip${opt.key})`)
    .selectAll("rect").data(idx).join("rect")
    .attr("x", i => x(Math.pow(10, logPturb[i])) - DOT / 2)
    .attr("y", i => y(Math.pow(10, opt.ys[i])) - DOT / 2)
    .attr("width", DOT).attr("height", DOT)
    .attr("fill", "#000");

  g.append("circle")
    .attr("cx", x(Math.pow(10, opt.hl[0])))
    .attr("cy", y(Math.pow(10, opt.hl[1])))
    .attr("r", 5.5).attr("fill", "#ff1010");

  g.append("rect").attr("x", left + 0.5).attr("y", TOP + 0.5)
    .attr("width", SIZE).attr("height", SIZE)
    .attr("fill", "none").attr("stroke", "#000").attr("stroke-width", 1)
    .attr("shape-rendering", "crispEdges");

  xTickValues.forEach((v, i) => {
    const t = g.append("text").attr("x", x(v) - 7.5).attr("y", 324.5);
    addSupText(t, "10", xTickExponents[i], "16px", "11.5px", -6);
  });

  opt.yTicks.forEach((v, i) => {
    const yy = Math.max(y(v) + 6.3, 18.5);
    const t = g.append("text").attr("x", left - 5).attr("y", yy).attr("text-anchor", "end");
    addSupText(t, opt.yBases[i], opt.yExps[i], "16px", "11.5px", -6);
  });

  g.append("text").attr("x", left + 8).attr("y", 36).attr("font-size", "24px").text(opt.label);

  const xt = g.append("text").attr("x", left + SIZE / 2 + 3).attr("y", 351)
    .attr("text-anchor", "middle").attr("font-size", "20px");
  titleTspans(xt, "turb");
  xt.append("tspan").attr("font-size", "12px").attr("dy", -8).text("-3");
  xt.append("tspan").attr("dy", 8).text("]");

  opt.yTitle(g);
}

drawPanel({
  key: "a", left: 64, yDomain: [1e2, 1e6], ys: logPtherm, hl: highlightA,
  yTicks: yTickValuesA, yBases: yTickBasesA, yExps: yTickExponentsA, label: panelLabels[0],
  yTitle: g => {
    const t = g.append("text").attr("transform", "translate(17,157) rotate(-90)")
      .attr("text-anchor", "middle").attr("font-size", "20px");
    titleTspans(t, "therm");
    t.append("tspan").attr("font-size", "12px").attr("dy", -5).text("-3");
    t.append("tspan").attr("dy", 5).text("]");
  }
});

drawPanel({
  key: "b", left: 447, yDomain: [1, 1e5], ys: logMass, hl: highlightB,
  yTicks: yTickValuesB, yBases: yTickBasesB, yExps: yTickExponentsB, label: panelLabels[1],
  yTitle: g => {
    const t = g.append("text").attr("transform", "translate(408,165) rotate(-90)")
      .attr("text-anchor", "middle").attr("font-size", "22px");
    t.append("tspan").text("Mass [M");
    t.append("tspan").attr("font-family", "'DejaVu Sans'").attr("font-size", "19px").text("\u2299");
    t.append("tspan").text("]");
  }
});
</script>
</body></html>
